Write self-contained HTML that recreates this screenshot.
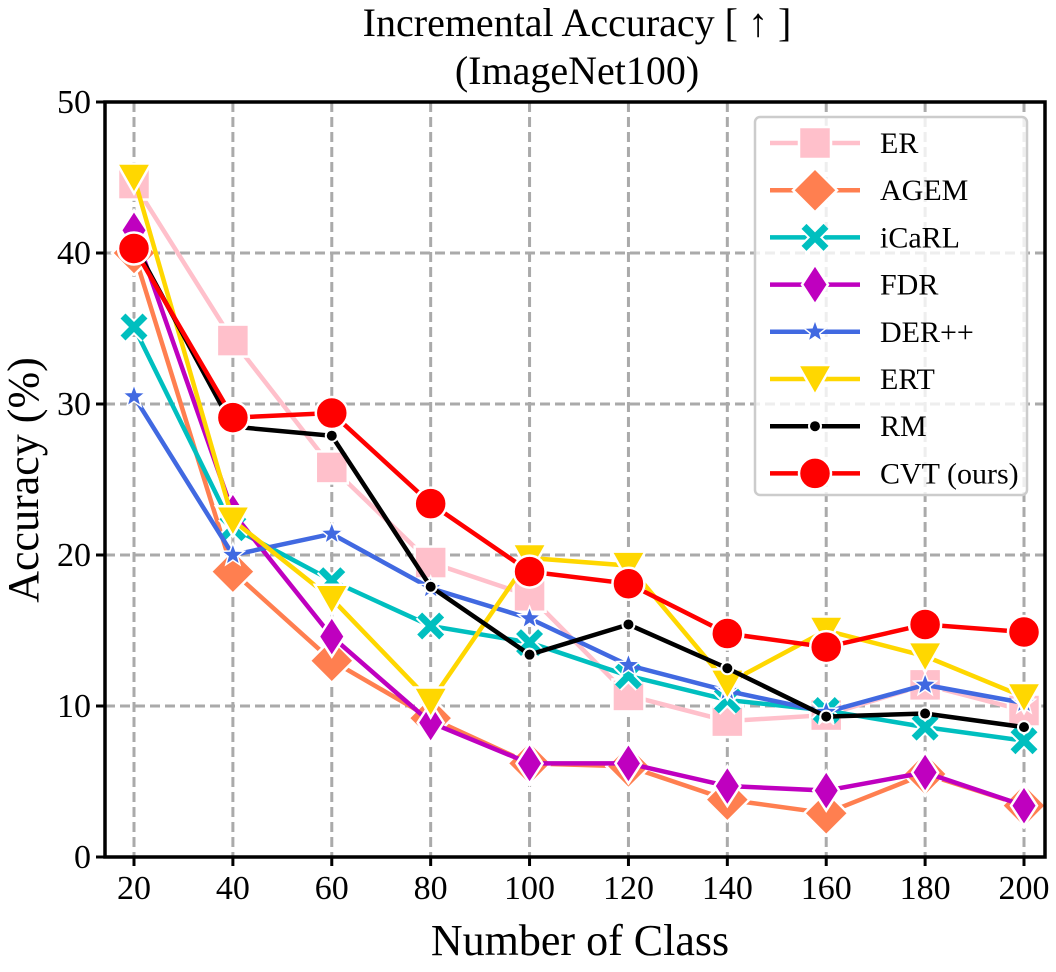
<!DOCTYPE html>
<html><head><meta charset="utf-8"><style>
body{margin:0;background:#fff}
svg text{font-family:"Liberation Serif",serif;fill:#000}
</style></head><body>
<svg id="chart" width="1056" height="967" viewBox="0 0 1056 967" xmlns="http://www.w3.org/2000/svg">
<text x="577" y="36" font-size="40" text-anchor="middle">Incremental Accuracy [ ↑ ]</text>
<text x="577" y="84" font-size="40" text-anchor="middle">(ImageNet100)</text>
<text x="580" y="955" font-size="44" text-anchor="middle">Number of Class</text>
<text transform="translate(38,480) rotate(-90)" font-size="44" text-anchor="middle">Accuracy (%)</text>
<g id="grid"></g><g id="series"></g><g id="axes"></g><g id="legend"></g>
</svg>
<script>
const categories=[20,40,60,80,100,120,140,160,180,200];
const yTicks=[0,10,20,30,40,50];
const seriesNames=["ER","AGEM","iCaRL","FDR","DER++","ERT","RM","CVT (ours)"];
const erValues=[44.6,34.2,25.8,19.5,17.3,10.7,9.0,9.4,11.4,9.7];
const agemValues=[40.0,18.9,13.0,9.2,6.2,6.0,3.8,2.9,5.5,3.4];
const icarlValues=[35.1,21.8,18.3,15.3,14.2,12.0,10.4,9.7,8.6,7.7];
const fdrValues=[41.5,22.8,14.6,8.9,6.2,6.2,4.7,4.4,5.6,3.4];
const derValues=[30.5,20.0,21.4,17.8,15.8,12.7,11.0,9.6,11.4,10.2];
const ertValues=[45.0,22.3,17.1,10.3,19.8,19.3,11.5,15.0,13.3,10.6];
const rmValues=[40.6,28.5,27.9,17.9,13.4,15.4,12.5,9.3,9.5,8.6];
const cvtValues=[40.3,29.1,29.4,23.4,18.9,18.1,14.8,13.9,15.4,14.9];
const NS="http://www.w3.org/2000/svg";
const L=105,R=1045,T=102,B=857;
const xS=v=>134+(v-20)*(1024-134)/180;
const yS=v=>B-v*(B-T)/50;
function mk(tag,attrs,parent){const e=document.createElementNS(NS,tag);for(const k in attrs)e.setAttribute(k,attrs[k]);parent.appendChild(e);return e;}
const grid=document.getElementById('grid'),axes=document.getElementById('axes'),ser=document.getElementById('series'),leg=document.getElementById('legend');
categories.forEach(c=>{const g=mk('line',{x1:xS(c),x2:xS(c),y1:T,y2:B,stroke:'#aaa','stroke-width':3,'stroke-dasharray':'10,5'},grid);


mk('line',{x1:xS(c),x2:xS(c),y1:B,y2:B+9,stroke:'#000','stroke-width':3},axes);
const t=mk('text',{x:xS(c),y:B+42,'font-size':34,'text-anchor':'middle'},axes);t.textContent=c;

});
yTicks.forEach(v=>{if(v>0&&v<50){const g=mk('line',{x1:L,x2:R,y1:yS(v),y2:yS(v),stroke:'#aaa','stroke-width':3,'stroke-dasharray':'10,5'},grid);

}
mk('line',{x1:L-9,x2:L,y1:yS(v),y2:yS(v),stroke:'#000','stroke-width':3},axes);
const t=mk('text',{x:L-14,y:yS(v)+11,'font-size':34,'text-anchor':'end'},axes);t.textContent=v;

});
const frame=mk('rect',{x:L,y:T,width:R-L,height:B-T,fill:'none',stroke:'#000','stroke-width':3.5},axes);


function marker(type,color,x,y,parent){
 const w={stroke:'#fff','stroke-width':2.5,fill:color};
 if(type==='square')return mk('rect',Object.assign({x:x-16,y:y-16,width:32,height:32},w),parent);
 if(type==='diamond')return mk('polygon',Object.assign({points:`${x},${y-22} ${x+22},${y} ${x},${y+22} ${x-22},${y}`},w),parent);
 if(type==='thin')return mk('polygon',Object.assign({points:`${x},${y-20} ${x+13},${y} ${x},${y+20} ${x-13},${y}`},w),parent);
 if(type==='x'){const g=mk('g',{},parent);mk('path',{d:`M${x-11},${y-11}L${x+11},${y+11}M${x+11},${y-11}L${x-11},${y+11}`,stroke:'#fff','stroke-width':11},g);mk('path',{d:`M${x-11},${y-11}L${x+11},${y+11}M${x+11},${y-11}L${x-11},${y+11}`,stroke:color,'stroke-width':7},g);return g;}
 if(type==='star'){let p=[];for(let i=0;i<10;i++){const r=i%2?5:12,a=-Math.PI/2+i*Math.PI/5;p.push((x+r*Math.cos(a)).toFixed(1)+','+(y+r*Math.sin(a)).toFixed(1));}return mk('polygon',Object.assign({points:p.join(' ')},w,{'stroke-width':1.5}),parent);}
 if(type==='tri')return mk('polygon',Object.assign({points:`${x-17},${y-14} ${x+17},${y-14} ${x},${y+16}`},w),parent);
 if(type==='dot')return mk('circle',Object.assign({cx:x,cy:y,r:6},w,{fill:'#000','stroke-width':2}),parent);
 return mk('circle',Object.assign({cx:x,cy:y,r:16},w),parent);
}
const defs=[[erValues,'#ffc0cb','square','er'],[agemValues,'#ff7f50','diamond','agem'],[icarlValues,'#00bfbf','x','icarl'],[fdrValues,'#bf00bf','thin','fdr'],[derValues,'#4169e1','star','der'],[ertValues,'#ffd700','tri','ert'],[rmValues,'#000000','dot','rm'],[cvtValues,'#ff0000','circle','cvt']];
defs.forEach((d,i)=>{
 const g=mk('g',{},ser);
 
 
 const pl=mk('polyline',{points:d[0].map((v,j)=>xS(categories[j])+','+yS(v)).join(' '),fill:'none',stroke:d[1],'stroke-width':4.5},g);
 
 
 d[0].forEach((v,j)=>{const m=marker(d[2],d[1],xS(categories[j]),yS(v),g);
 
 });
 const ly=143+i*47.2;
 const le=mk('g',{},leg);
 
 
 mk('line',{x1:770,x2:860,y1:ly,y2:ly,stroke:d[1],'stroke-width':4.5},le);
 marker(d[2],d[1],815,ly,le);
 const t=mk('text',{x:880,y:ly+10,'font-size':30},le);t.textContent=seriesNames[i];
});
const box=mk('rect',{x:755,y:117,width:272,height:378,rx:5,fill:'#fff','fill-opacity':0.8,stroke:'#ccc','stroke-width':2.5},leg);


leg.insertBefore(box,leg.firstChild);
</script>
</body></html>
